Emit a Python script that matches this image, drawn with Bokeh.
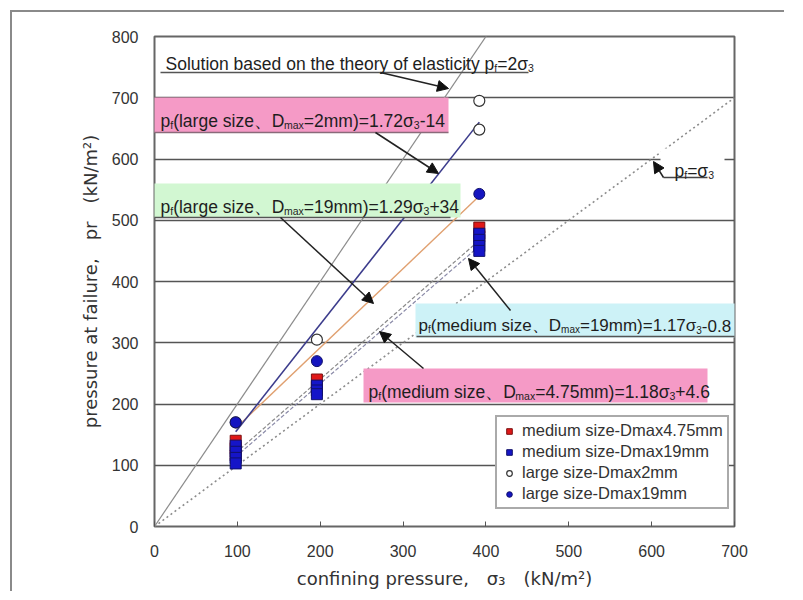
import re
from bokeh.plotting import figure
from bokeh.layouts import column
from bokeh.models import (Range1d, BoxAnnotation, Arrow, NormalHead, Legend,
                          LegendItem, FixedTicker, Label)
from bokeh.embed import file_html
from bokeh.resources import INLINE

# ---------------- data ----------------
x_ticks = [0, 100, 200, 300, 400, 500, 600, 700]
y_ticks = [0, 100, 200, 300, 400, 500, 600, 700, 800]

med475_x = [98, 98, 98, 196, 196, 392, 392]
med475_y = [140, 128, 116, 240, 228, 488, 474]
med19_x = [98, 98, 98, 98, 196, 196, 196, 392, 392, 392, 392]
med19_y = [132, 122, 112, 103, 230, 222, 216, 478, 468, 458, 450]
large2_x = [98, 196, 392, 392]
large2_y = [170, 305, 695, 648]
large19_x = [98, 196, 392]
large19_y = [170, 270, 543]

elastic_x = [0, 410]
elastic_y = [0, 820]
equal_x = [0, 700]
equal_y = [0, 700]
fit_x = [98, 392]
fit_large2_y = [154.6, 660.2]
fit_large19_y = [160.4, 539.7]
fit_med19_y = [113.9, 457.8]
fit_med475_y = [120.2, 467.2]

legend_labels = ["medium size-Dmax4.75mm", "medium size-Dmax19mm",
                 "large size-Dmax2mm", "large size-Dmax19mm"]

# ---------------- layout geometry ----------------
OFF = 12                 # outer page border offset
FL, FT, FW, FH = 154, 36, 580, 490   # frame in page pixels
XMAX, YMAX = 700, 800


def px2x(px):
    return (px - FL) / FW * XMAX


def px2y(py):
    return (FT + FH - py) / FH * YMAX


p = figure(frame_width=FW, frame_height=FH,
           x_range=Range1d(0, XMAX), y_range=Range1d(0, YMAX),
           output_backend="svg", toolbar_location=None,
           min_border_left=FL - OFF, min_border_top=FT - OFF,
           min_border_right=50, min_border_bottom=600 - FT - FH - OFF,
           background_fill_color="white", border_fill_color="white")
p.margin = 0

p.outline_line_color = "#666666"
p.outline_line_width = 2
p.xgrid.visible = False
p.ygrid.ticker = FixedTicker(ticks=y_ticks)
p.ygrid.grid_line_color = "#555555"
p.ygrid.grid_line_width = 1.6

p.xaxis.ticker = FixedTicker(ticks=x_ticks)
p.yaxis.ticker = FixedTicker(ticks=y_ticks)
for ax in (p.xaxis, p.yaxis):
    ax.axis_line_color = None
    ax.minor_tick_line_color = None
    ax.major_label_text_font = "Liberation Sans"
    ax.major_label_text_font_size = "16px"
    ax.major_label_text_color = "#333333"
    ax.axis_label_text_font = "DejaVu Sans"
    ax.axis_label_text_font_size = "18px"
    ax.axis_label_text_font_style = "normal"
    ax.axis_label_text_color = "#333333"
p.xaxis.major_tick_in = 5
p.xaxis.major_tick_out = 0
p.xaxis.major_tick_line_color = "#555555"
p.xaxis.major_label_standoff = 18
p.xaxis.axis_label_standoff = 8
p.yaxis.major_tick_in = 0
p.yaxis.major_tick_out = 0
p.yaxis.major_label_standoff = 16
p.yaxis.axis_label_standoff = 8
p.xaxis.axis_label = "confining pressure,\u3000σ\u2083\u3000(kN/m²)"
p.yaxis.axis_label = "pressure at failure,\u3000pr\u3000(kN/m²)"

# ---------------- lines ----------------
p.line(elastic_x, elastic_y, line_color="#8c8c8c", line_width=1.2)
p.line(equal_x, equal_y, line_color="#8c8c8c", line_width=1.6, line_dash="2 3")
p.line(fit_x, fit_med475_y, line_color="#8a8a8a", line_width=1.2, line_dash="4 2")
p.line(fit_x, fit_med19_y, line_color="#8a8aa8", line_width=1.2, line_dash="4 2")
p.line(fit_x, fit_large19_y, line_color="#e0a070", line_width=1.4)
p.line(fit_x, fit_large2_y, line_color="#3c3c8c", line_width=1.6)

# ---------------- markers ----------------
r_m475 = p.scatter(med475_x, med475_y, marker="square", size=11,
                   fill_color="#e01818", line_color="#7a1010", line_width=1)
r_m19 = p.scatter(med19_x, med19_y, marker="square", size=11,
                  fill_color="#1515c8", line_color="#10106a", line_width=1)
r_l2 = p.scatter(large2_x, large2_y, marker="circle", size=11,
                 fill_color="white", line_color="#333333", line_width=1.2)
r_l19 = p.scatter(large19_x, large19_y, marker="circle", size=11,
                  fill_color="#1515c0", line_color="#10106a", line_width=1)

# ---------------- annotations ----------------
AW = {' ': 278, '(': 333, ')': 333, '+': 584, ',': 278, '-': 333, '.': 278,
      '/': 278, '=': 584, 'D': 722, 'S': 667, 'a': 556, 'b': 556, 'c': 500,
      'd': 556, 'e': 556, 'f': 278, 'g': 556, 'h': 556, 'i': 222, 'k': 500,
      'l': 222, 'm': 833, 'n': 556, 'o': 556, 'p': 556, 'r': 333, 's': 500,
      't': 278, 'u': 556, 'x': 500, 'y': 500, 'z': 500, 'σ': 617,
      '、': 1000, '\u3000': 1000}
for d in "0123456789":
    AW[d] = 556

TEXT_COLOR = "#1e1e1e"


def tw(s, size):
    return sum(AW.get(c, 556) for c in s) / 1000.0 * size


def parse(markup):
    parts = []
    for m in re.finditer(r"_\{([^}]*)\}|([^_]+)", markup):
        if m.group(1) is not None:
            parts.append((m.group(1), True))
        else:
            parts.append((m.group(2), False))
    return parts


def rich(x_px, base_px, markup, size=17.5, sub_size=10.5, drop=4):
    cx = x_px
    for txt, sub in parse(markup):
        s = sub_size if sub else size
        by = base_px + (drop if sub else 0)
        p.add_layout(Label(x=px2x(cx), y=px2y(by), text=txt,
                           text_font="Liberation Sans", text_font_size=f"{s}px",
                           text_baseline="alphabetic", text_align="left",
                           text_color=TEXT_COLOR))
        cx += tw(txt, s)


def box(l, t, r, b, color):
    p.add_layout(BoxAnnotation(left=px2x(l), right=px2x(r), top=px2y(t), bottom=px2y(b),
                               fill_color=color, fill_alpha=1.0, line_color=None,
                               level="annotation"))


def seg(x0, y0, x1, y1, color="#555555", width=1.6):
    p.add_layout(Arrow(end=None, x_start=px2x(x0), y_start=px2y(y0),
                       x_end=px2x(x1), y_end=px2y(y1),
                       line_color=color, line_width=width))


def arrow(x0, y0, x1, y1):
    p.add_layout(Arrow(end=NormalHead(size=11, fill_color="#111111", line_color="#111111"),
                       x_start=px2x(x0), y_start=px2y(y0), x_end=px2x(x1), y_end=px2y(y1),
                       line_color="#222222", line_width=1.5))


# boxes first
box(153, 97, 448, 132, "#f59ac6")
box(153, 183, 460, 217, "#d2f7d2")
box(415, 303, 747, 337, "#cdf2f7")
box(363, 368, 707, 402, "#f59ac6")
box(660, 148, 724, 176, "white")

# underlines
seg(160, 72, 528, 72)
seg(153, 132, 448, 132, "#8a6a7a")
seg(153, 217, 450, 217)
seg(416, 336, 744, 336)
seg(663, 177, 707, 177, "#444444", 1.5)

# texts
rich(165, 63, "Solution based on the theory of elasticity p_{f}=2σ_{3}")
rich(160, 120, "p_{f}(large size、D_{max}=2mm)=1.72σ_{3}-14")
rich(160, 206, "p_{f}(large size、D_{max}=19mm)=1.29σ_{3}+34")
rich(418, 325, "p_{f}(medium size、D_{max}=19mm)=1.17σ_{3}-0.8", size=17, sub_size=10)
rich(368, 391, "p_{f}(medium size、D_{max}=4.75mm)=1.18σ_{3}+4.6")
rich(674, 170, "p_{f}=σ_{3}")

# arrows
arrow(380, 72, 448, 88)
arrow(375, 132, 438, 173)
arrow(280, 217, 373, 303)
arrow(510, 310, 468, 258)
arrow(423, 368, 379, 331)
arrow(663, 177, 653, 161)

# ---------------- legend ----------------
legend = Legend(items=[LegendItem(label=legend_labels[0], renderers=[r_m475]),
                       LegendItem(label=legend_labels[1], renderers=[r_m19]),
                       LegendItem(label=legend_labels[2], renderers=[r_l2]),
                       LegendItem(label=legend_labels[3], renderers=[r_l19])],
                location=(495 - FL, FT + FH - 509))
legend.label_text_font = "Liberation Sans"
legend.label_text_font_size = "16.5px"
legend.label_text_color = "#333333"
legend.border_line_color = "#555555"
legend.border_line_width = 2
legend.background_fill_color = "white"
legend.background_fill_alpha = 1.0
legend.padding = 4
legend.spacing = 2
legend.label_height = 19
legend.glyph_height = 14
legend.glyph_width = 16
legend.label_standoff = 5
legend.margin = 0
p.add_layout(legend, "center")

# outer page border drawn on the wrapping column
layout = column(p, spacing=0)
layout.styles = {"margin-top": f"{OFF - 2}px", "margin-left": f"{OFF - 2}px",
                 "border-top": "2px solid #8a8a8a", "border-left": "2px solid #8a8a8a",
                 "overflow": "visible"}

open("out.html", "w").write(file_html(layout, INLINE))
